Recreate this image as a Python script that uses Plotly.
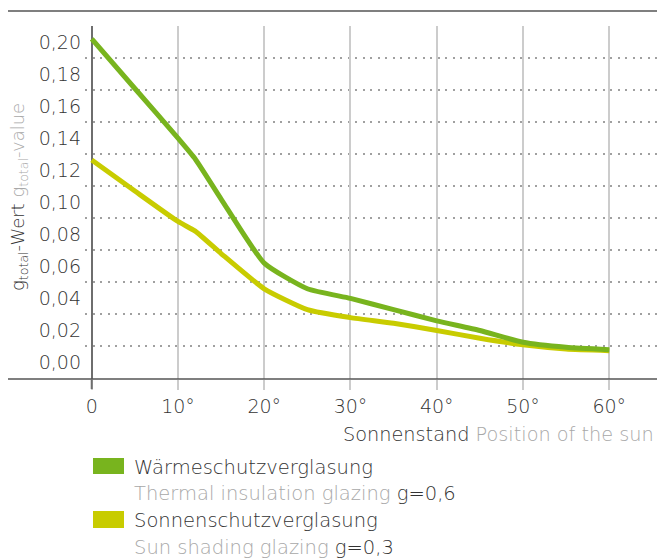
import plotly.graph_objects as go

# Data
sun_angle = [0, 5, 10, 12, 15, 20, 25, 30, 35, 40, 45, 50, 55, 60]
thermal_glazing = [0.202, 0.171, 0.140, 0.127, 0.102, 0.062, 0.046, 0.040, 0.033, 0.026, 0.020, 0.0126, 0.0095, 0.008]
sun_shading_glazing = [0.1264, 0.107, 0.088, 0.082, 0.068, 0.046, 0.033, 0.028, 0.0245, 0.020, 0.0151, 0.011, 0.0084, 0.0074]

x_tickvals = [0, 10, 20, 30, 40, 50, 60]
x_ticktext = ["0", "10°", "20°", "30°", "40°", "50°", "60°"]
y_tickvals = [0.00, 0.02, 0.04, 0.06, 0.08, 0.10, 0.12, 0.14, 0.16, 0.18, 0.20]
y_ticktext = ["0,00", "0,02", "0,04", "0,06", "0,08", "0,10", "0,12", "0,14", "0,16", "0,18", "0,20"]
y_gridvals = [0.01, 0.03, 0.05, 0.07, 0.09, 0.11, 0.13, 0.15, 0.17, 0.19]

GREEN = "#78B41E"
YELLOW = "#C8CC00"
DARK = "#333333"
GREY = "#A8A8A8"
FONT = "DejaVu Sans"
WEIGHT = 300

fig = go.Figure()
fig.add_trace(go.Scatter(x=sun_angle, y=sun_shading_glazing, mode="lines",
                         line=dict(color=YELLOW, width=5, shape="spline", smoothing=0.5),
                         showlegend=False, hoverinfo="skip"))
fig.add_trace(go.Scatter(x=sun_angle, y=thermal_glazing, mode="lines",
                         line=dict(color=GREEN, width=5, shape="spline", smoothing=0.5),
                         showlegend=False, hoverinfo="skip"))

# the page body has an 8px margin, so the figure is laid out 8px smaller
OFF = 8
W, H = 665 - OFF, 559 - OFF
L, T = 85 - OFF, 26 - OFF
R = W - (661 - OFF)
B = H - (379 - OFF)
pw, ph = W - L - R, H - T - B

def px(p):
    return (p - OFF - L) / pw

def py(p):
    return (H - B - (p - OFF)) / ph

tick_font = dict(size=19, color=DARK, family=FONT, weight=WEIGHT)

fig.update_layout(
    width=W, height=H,
    margin=dict(l=L, r=R, t=T, b=B),
    paper_bgcolor="white", plot_bgcolor="white",
    font=dict(family=FONT, size=19, color=DARK, weight=WEIGHT),
    xaxis=dict(range=[-0.78, 66.0], tickvals=x_tickvals, ticktext=x_ticktext,
               showgrid=True, gridcolor="#CCCCCC", gridwidth=1.5,
               ticks="outside", ticklen=10, tickcolor="#CCCCCC", tickwidth=1.5,
               zeroline=True, zerolinecolor="#6E6E6E", zerolinewidth=2,
               showline=False, tickfont=tick_font),
    yaxis=dict(range=[-0.0103, 0.21], tickvals=y_tickvals, ticktext=y_ticktext,
               showgrid=False, zeroline=False, showline=False, ticks="",
               ticklabelstandoff=3, tickfont=tick_font,
               minor=dict(tickvals=y_gridvals, showgrid=True, gridcolor="#A0A0A0",
                          gridwidth=1.5, griddash="2px,5.5px", ticks="")),
)

shapes = [
    dict(type="line", xref="paper", yref="paper", x0=px(7), x1=px(665), y0=py(11), y1=py(11),
         line=dict(color="#555555", width=1.5)),
    dict(type="line", xref="paper", yref="paper", x0=px(7), x1=1, y0=0, y1=0,
         line=dict(color="#555555", width=1.5)),
    dict(type="line", xref="x", yref="paper", x0=0, x1=0, y0=0, y1=-10 / ph,
         line=dict(color="#6E6E6E", width=2)),
    dict(type="rect", xref="paper", yref="paper", x0=px(93), x1=px(124), y0=py(458), y1=py(474),
         fillcolor=GREEN, line=dict(width=0)),
    dict(type="rect", xref="paper", yref="paper", x0=px(93), x1=px(124), y0=py(511), y1=py(528),
         fillcolor=YELLOW, line=dict(width=0)),
]
fig.update_layout(shapes=shapes)

ann = [
    dict(text=f"g<sub>total</sub>-Wert <span style='color:{GREY}'>g<sub>total</sub>-value</span>",
         x=px(19), y=py(197), textangle=-90, size=18),
    dict(text=f"Sonnenstand <span style='color:{GREY}'>Position of the sun</span>",
         x=px(342), y=py(435), xanchor="left", size=19.3),
    dict(text="Wärmeschutzverglasung", x=px(133), y=py(467), xanchor="left"),
    dict(text=f"<span style='color:{GREY}'>Thermal insulation glazing</span> g=0,6",
         x=px(133), y=py(493), xanchor="left"),
    dict(text="Sonnenschutzverglasung", x=px(133), y=py(520), xanchor="left"),
    dict(text=f"<span style='color:{GREY}'>Sun shading glazing</span> g=0,3",
         x=px(133), y=py(547), xanchor="left"),
]
for a in ann:
    a.setdefault("xanchor", "center")
    size = a.pop("size", 19.5)
    fig.add_annotation(xref="paper", yref="paper", showarrow=False, yanchor="middle",
                       borderpad=0,
                       font=dict(family=FONT, size=size, color=DARK, weight=WEIGHT), **a)

fig.write_html("out.html")
